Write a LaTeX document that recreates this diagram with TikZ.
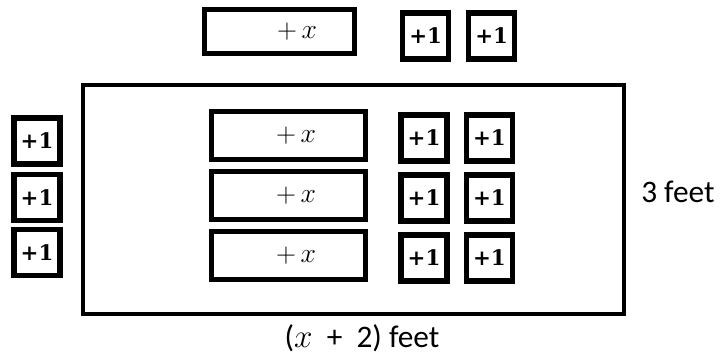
\documentclass[tikz,border=0pt]{standalone}
\usepackage{fontspec}
\newfontfamily\labelfont{Carlito}
\newfontfamily\tilefont{DejaVu Serif}
\usetikzlibrary{positioning}

\tikzset{
  xtile/.style={draw, line width=3.8pt, minimum width=115.5pt, minimum height=36pt, inner sep=0pt},
  onetile/.style={draw, line width=3.8pt, minimum width=34.5pt, minimum height=34.5pt, inner sep=0pt,
    font=\tilefont\bfseries\fontsize{16}{18}\selectfont},
  xlabel/.style={font=\fontsize{22}{24}\selectfont, inner sep=0pt},
  feet/.style={font=\labelfont\fontsize{23.5}{26}\selectfont, inner sep=0pt}
}

\begin{document}
\begin{tikzpicture}[x=0.75pt, y=-0.75pt]
\useasboundingbox (0,0) rectangle (721,364);

  % the garden
  \node[draw, line width=3pt, minimum width=405.75pt, minimum height=172pt] (garden) at (353.2,199.3) {};

  % tiles on top
  \node[xtile, minimum width=112pt, minimum height=33pt] (topx) at (279.5,31.7) {};
  \node[xlabel] (topxl) at (297,31.7) {$+\,x$};
  \node[onetile] (topa) at (425.7,36) {+1};
  \node[onetile] (topb) at (491.7,36) {+1};

  % tiles on the left
  \node[onetile] (lefta) at (37,141) {+1};
  \node[onetile] (leftb) at (37,197.5) {+1};
  \node[onetile] (leftc) at (37,252.5) {+1};

  % three rows inside
  \foreach \r/\y in {a/135.8, b/195.8, c/255.8} {
    \node[xlabel] (xl\r) at (296,\y) {$+\,x$};
    \node[xtile] (x\r) at (288.8,\y) {};
    \node[onetile] (p\r) at (424,\y+2.2) {+1};
    \node[onetile] (q\r) at (489.4,\y+2.2) {+1};
  }

  \node[feet, anchor=base west] (height) at (641,202) {3 feet};
  \node[feet, anchor=base] (width) at (362,347) {($x$ \ + \ 2) feet};
\end{tikzpicture}
\end{document}
